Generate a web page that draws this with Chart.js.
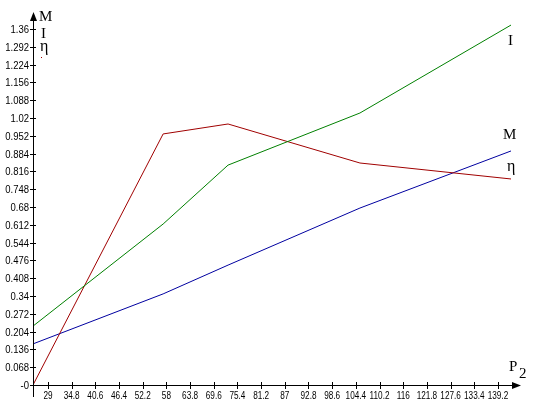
<!DOCTYPE html>
<html>
<head>
<meta charset="utf-8">
<script src="https://cdn.jsdelivr.net/npm/chart.js@4/dist/chart.umd.min.js"></script>
<style>
  html, body { margin: 0; padding: 0; background: #fff; }
  #wrap { width: 536px; height: 410px; }
</style>
</head>
<body>
<div id="wrap"><canvas id="chart" width="536" height="410"></canvas></div>
<script>
// data
const xValues = [25.33, 57.2, 73.1, 105.4, 142.4];
const seriesI = [0.225, 0.615, 0.840, 1.039, 1.375];
const seriesEta = [0.0, 0.959, 0.997, 0.848, 0.787];
const seriesM = [0.157, 0.348, 0.458, 0.676, 0.894];

const xTicks = [29, 34.8, 40.6, 46.4, 52.2, 58, 63.8, 69.6, 75.4, 81.2, 87, 92.8, 98.6, 104.4, 110.2, 116, 121.8, 127.6, 133.4, 139.2];
const xTickLabels = ['29', '34.8', '40.6', '46.4', '52.2', '58', '63.8', '69.6', '75.4', '81.2', '87', '92.8', '98.6', '104.4', '110.2', '116', '121.8', '127.6', '133.4', '139.2'];
const yTicks = [0, 0.068, 0.136, 0.204, 0.272, 0.34, 0.408, 0.476, 0.544, 0.612, 0.68, 0.748, 0.816, 0.884, 0.952, 1.02, 1.088, 1.156, 1.224, 1.292, 1.36];
const yTickLabels = ['-0', '0.068', '0.136', '0.204', '0.272', '0.34', '0.408', '0.476', '0.544', '0.612', '0.68', '0.748', '0.816', '0.884', '0.952', '1.02', '1.088', '1.156', '1.224', '1.292', '1.36'];

const toPoints = (ys) => ys.map((y, i) => ({ x: xValues[i], y: y }));

const serif = '"Liberation Serif", "DejaVu Serif", serif';
const tickFont = '10px "Liberation Sans", Arial, sans-serif';

// text squeezed sideways, the tick font in the picture is a narrow one
const narrowText = (ctx, text, x, y, align, sx) => {
    ctx.save();
    ctx.translate(x, y);
    ctx.scale(sx, 1);
    ctx.textAlign = align;
    ctx.fillText(text, 0, 0);
    ctx.restore();
};

// axes with arrows, crossing tick marks, tick labels and names
const axesPlugin = {
    id: 'axesPlugin',
    afterDraw(chart) {
        const ctx = chart.ctx;
        const xs = chart.scales.x, ys = chart.scales.y;
        const ox = xs.left, oy = ys.getPixelForValue(0);
        const xEnd = xs.right, yTop = ys.top;
        ctx.save();
        ctx.strokeStyle = '#000';
        ctx.fillStyle = '#000';
        ctx.lineWidth = 1;
        ctx.beginPath();
        ctx.moveTo(ox + 0.5, oy + 12);
        ctx.lineTo(ox + 0.5, yTop + 6);
        ctx.moveTo(ox, oy + 0.5);
        ctx.lineTo(xEnd - 6, oy + 0.5);
        xTicks.forEach(v => {
            const px = Math.round(xs.getPixelForValue(v)) + 0.5;
            ctx.moveTo(px, oy - 3);
            ctx.lineTo(px, oy + 4);
        });
        yTicks.forEach(v => {
            const py = Math.round(ys.getPixelForValue(v)) + 0.5;
            ctx.moveTo(ox - 3, py);
            ctx.lineTo(ox + 3, py);
        });
        ctx.stroke();
        // arrow heads
        ctx.beginPath();
        ctx.moveTo(ox + 0.5, yTop - 1);
        ctx.lineTo(ox - 3, yTop + 8);
        ctx.lineTo(ox + 4, yTop + 8);
        ctx.closePath();
        ctx.fill();
        ctx.beginPath();
        ctx.moveTo(xEnd + 1, oy + 0.5);
        ctx.lineTo(xEnd - 8, oy - 3);
        ctx.lineTo(xEnd - 8, oy + 4);
        ctx.closePath();
        ctx.fill();

        // tick labels
        ctx.font = tickFont;
        ctx.textBaseline = 'alphabetic';
        xTicks.forEach((v, i) => {
            narrowText(ctx, xTickLabels[i], xs.getPixelForValue(v), oy + 14, 'center', 0.82);
        });
        yTicks.forEach((v, i) => {
            narrowText(ctx, yTickLabels[i], ox - 4, ys.getPixelForValue(v) + 4, 'right', 0.95);
        });

        // axis names
        ctx.textAlign = 'left';
        ctx.font = '15px ' + serif;
        ctx.fillText('M', 39, 21);
        ctx.fillText('I', 41, 38);
        ctx.font = '16px ' + serif;
        ctx.fillText('η', 40, 51);
        ctx.fillStyle = '#a00000';
        ctx.fillRect(41, 57, 1, 1);
        ctx.fillStyle = '#000';
        ctx.font = '15px ' + serif;
        ctx.fillText('P', 509, 371);
        ctx.fillText('2', 519, 378);

        // line labels
        ctx.fillText('I', 508, 45);
        ctx.fillText('M', 503, 139);
        ctx.font = '16px ' + serif;
        ctx.fillText('η', 507, 171);
        ctx.restore();
    }
};

new Chart(document.getElementById('chart'), {
    type: 'line',
    data: {
        datasets: [
            { label: 'I', data: toPoints(seriesI), borderColor: '#008000', borderWidth: 1, pointRadius: 0, tension: 0, fill: false },
            { label: 'η', data: toPoints(seriesEta), borderColor: '#a00000', borderWidth: 1, pointRadius: 0, tension: 0, fill: false },
            { label: 'M', data: toPoints(seriesM), borderColor: '#0000a0', borderWidth: 1, pointRadius: 0, tension: 0, fill: false }
        ]
    },
    options: {
        responsive: false,
        animation: false,
        events: [],
        layout: { padding: { left: 0, top: 13, right: 16, bottom: 0 } },
        plugins: { legend: { display: false }, tooltip: { enabled: false } },
        scales: {
            x: {
                type: 'linear',
                min: 25.33,
                max: 144.6,
                grid: { display: false },
                border: { display: false },
                afterBuildTicks: (scale) => { scale.ticks = xTicks.map(v => ({ value: v })); },
                afterFit: (scale) => { scale.height = 25; },
                ticks: { display: false }
            },
            y: {
                type: 'linear',
                min: 0,
                max: 1.421,
                grid: { display: false },
                border: { display: false },
                afterBuildTicks: (scale) => { scale.ticks = yTicks.map(v => ({ value: v })); },
                afterFit: (scale) => { scale.width = 33; },
                ticks: { display: false }
            }
        }
    },
    plugins: [axesPlugin]
});
</script>
</body>
</html>
